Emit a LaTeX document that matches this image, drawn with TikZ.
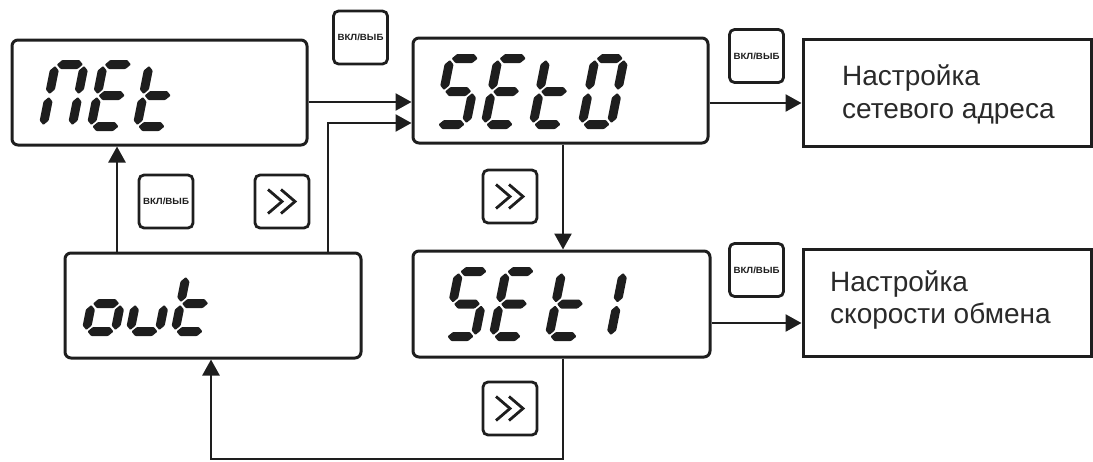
\documentclass[tikz,border=0pt]{standalone}
\usepackage{fontspec}
\setmainfont{Liberation Sans}
\usetikzlibrary{arrows.meta}
\definecolor{ink}{HTML}{1E1E1E}
\definecolor{txt}{HTML}{2A2A2A}
\tikzset{
  disp/.style={draw=ink, line width=3pt, rounded corners=6pt, inner sep=0pt},
  info/.style={draw=ink, line width=3pt, inner sep=0pt},
  key/.style={draw=ink, line width=2.8pt, rounded corners=5pt, minimum width=54pt, minimum height=53pt, inner sep=0pt},
  conn/.style={draw=ink, line width=2.6pt, -{Triangle[length=16pt,width=17pt]}},
  sg/.style={fill=ink, rounded corners=0.8pt},
  chev/.style={draw=ink, line width=2.8pt},
  infotext/.style={anchor=base west, text=txt, font=\fontsize{28}{28}\selectfont, inner sep=0pt},
  keytext/.style={font=\fontsize{9}{9}\selectfont\bfseries, text=ink, inner sep=0pt}
}
\def\sw{29}
\def\sh{64}
\def\st{4.5}
% horizontal segment: x1, x2, y ; vertical segment: x, y1, y2 (y1 < y2)
\newcommand\hseg[3]{\fill[sg] (#1,#3) -- (#1+\st,#3-\st) -- (#2-\st,#3-\st) -- (#2,#3) -- (#2-\st,#3+\st) -- (#1+\st,#3+\st) -- cycle;}
\newcommand\vseg[3]{\fill[sg] (#1,#2) -- (#1+\st,#2+\st) -- (#1+\st,#3-\st) -- (#1,#3) -- (#1-\st,#3-\st) -- (#1-\st,#2+\st) -- cycle;}
\newcommand\sgA{\hseg{1.5}{\sw-1.5}{-\sh}}
\newcommand\sgB{\vseg{\sw}{-\sh+1.5}{-\sh/2-1.5}}
\newcommand\sgC{\vseg{\sw}{-\sh/2+1.5}{-1.5}}
\newcommand\sgD{\hseg{1.5}{\sw-1.5}{0}}
\newcommand\sgE{\vseg{0}{-\sh/2+1.5}{-1.5}}
\newcommand\sgF{\vseg{0}{-\sh+1.5}{-\sh/2-1.5}}
\newcommand\sgG{\hseg{1.5}{\sw-1.5}{-\sh/2}}
\newcommand\glyph[4]{\begin{scope}[shift={(#1,#2)},xslant=0.2]\def\sh{#3}#4\end{scope}}
\newcommand\chevrons[1]{%
  \draw[chev] ([shift={(-14,-12)}]#1.center) -- ([shift={(0,0)}]#1.center) -- ([shift={(-14,12)}]#1.center);
  \draw[chev] ([shift={(-1,-12)}]#1.center) -- ([shift={(13,0)}]#1.center) -- ([shift={(-1,12)}]#1.center);}
\begin{document}
\begin{tikzpicture}[x=1pt,y=-1pt]
\useasboundingbox (0,0) rectangle (1093,461);
% display boxes
\node[disp, minimum width=295pt, minimum height=105pt] (net) at (159.5,92.5) {};
\node[disp, minimum width=295pt, minimum height=105pt] (set0) at (560.5,90.5) {};
\node[disp, minimum width=296pt, minimum height=105pt] (out) at (213,305.5) {};
\node[disp, minimum width=297pt, minimum height=106pt] (set1) at (561.5,304) {};
\node[info, minimum width=288pt, minimum height=107pt] (n1) at (947,92.5) {};
\node[info, minimum width=288pt, minimum height=107pt] (n2) at (947,302.5) {};
% info texts
\node[infotext] (n1a) at (842,85) {Настройка};
\node[infotext] (n1b) at (842,118) {сетевого адреса};
\node[infotext] (n2a) at (830,291) {Настройка};
\node[infotext] (n2b) at (830,323) {скорости обмена};
% keys
\node[key] (k1) at (360.5,37.5) {};
\node[key] (k2) at (166,201.5) {};
\node[key] (k3) at (282,201.5) {};
\node[key] (k4) at (510,196.5) {};
\node[key] (k5) at (756.5,56) {};
\node[key] (k6) at (756.5,270) {};
\node[key] (k7) at (510,408.5) {};
\foreach \k in {k1,k2,k5,k6}{\node[keytext] at (\k.center) {\scalebox{1.08}[1]{ВКЛ/ВЫБ}};}
\chevrons{k3}
\chevrons{k4}
\chevrons{k7}
% seven-segment texts
\glyph{43}{126.5}{62}{\sgA\sgB\sgC\sgE\sgF}
\glyph{91}{126.5}{62}{\sgA\sgF\sgG\sgE\sgD}
\glyph{137}{126.5}{62}{\sgF\sgE\sgG\sgD}
\glyph{437}{124.5}{66}{\sgA\sgF\sgG\sgC\sgD}
\glyph{485}{124.5}{66}{\sgA\sgF\sgG\sgE\sgD}
\glyph{533}{124.5}{66}{\sgF\sgE\sgG\sgD}
\glyph{582}{124.5}{66}{\sgA\sgB\sgC\sgD\sgE\sgF}
\glyph{446}{336.5}{65}{\sgA\sgF\sgG\sgC\sgD}
\glyph{493}{336.5}{65}{\sgA\sgF\sgG\sgE\sgD}
\glyph{549}{336.5}{65}{\sgF\sgE\sgG\sgD}
\glyph{581.5}{336.5}{65}{\sgB\sgC}
\glyph{86}{331.5}{56}{\sgC\sgD\sgE\sgG}
\glyph{130}{331.5}{56}{\sgC\sgD\sgE}
\glyph{175}{331.5}{56}{\sgF\sgE\sgG\sgD}
% connectors
\coordinate (c1) at (328,123);
\coordinate (c2) at (563,459);
\coordinate (c3) at (211,459);
\draw[conn] (net.east |- 0,102) -- (set0.west |- 0,102);
\draw[conn] (out.north -| c1) -- (c1) -- (set0.west |- c1);
\draw[conn] (out.north -| 117,0) -- (net.south -| 117,0);
\draw[conn] (set0.south -| c2) -- (set1.north -| c2);
\draw[conn] (set1.south -| c2) -- (c2) -- (c3) -- (out.south -| c3);
\draw[conn] (set0.east |- 0,103) -- (n1.west |- 0,103);
\draw[conn] (set1.east |- 0,323) -- (n2.west |- 0,323);
\end{tikzpicture}
\end{document}
